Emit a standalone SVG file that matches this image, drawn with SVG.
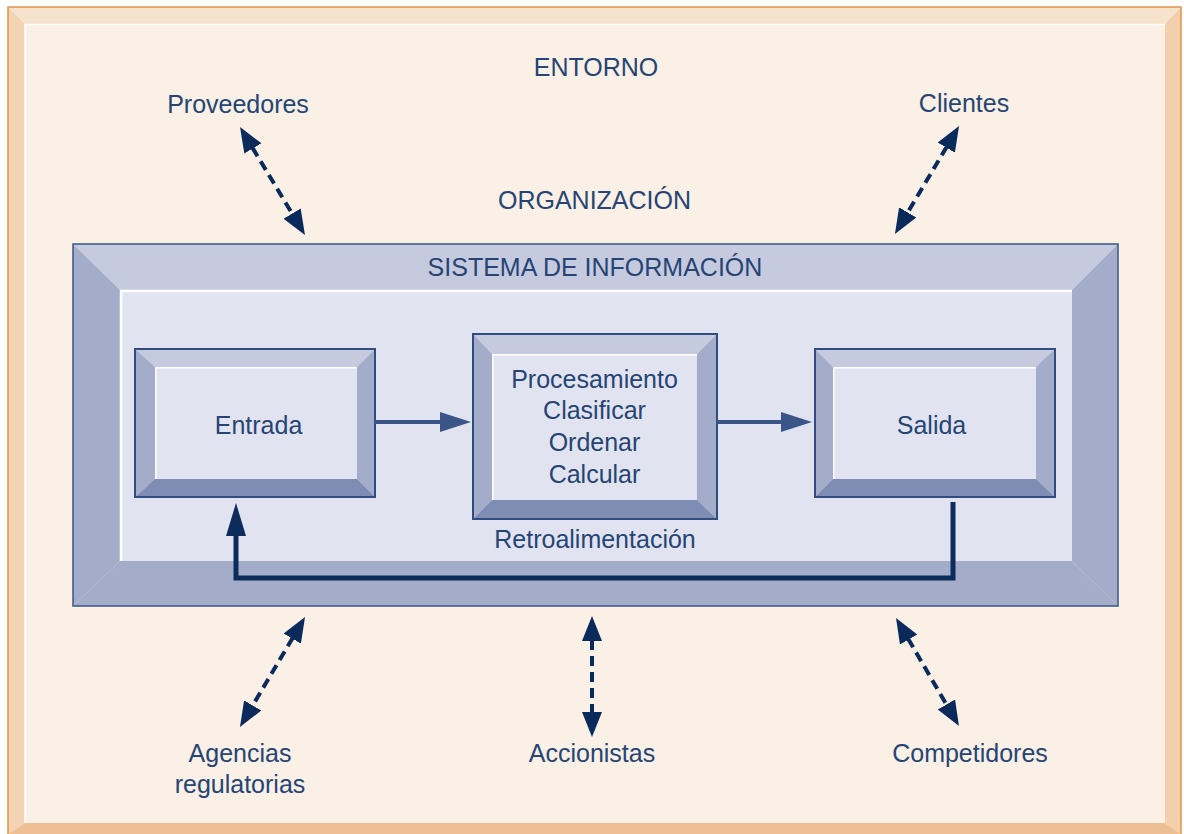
<svg xmlns="http://www.w3.org/2000/svg" width="1184" height="834" viewBox="0 0 1184 834">
<style>
text{font-family:"Liberation Sans",Arial,sans-serif;font-size:25px;fill:#264474;text-anchor:middle}
.bt{fill:#c5cadf}.bs{fill:#a3adca}.bb{fill:#7f8cb3}.in{fill:#e1e4f0}
.ol{fill:none;stroke:#2f4d80;stroke-width:2}
.dash{fill:none;stroke:#0a2a5c;stroke-width:4;stroke-dasharray:10 6}
</style>
<defs>
<marker id="dh" markerUnits="userSpaceOnUse" markerWidth="30" markerHeight="24" viewBox="0 0 30 20" refX="1" refY="10" orient="auto-start-reverse">
<path d="M0,0 L25,10 L0,20 Z" fill="#0a2a5c"/>
</marker>
</defs>
<rect width="1184" height="834" fill="#ffffff"/>
<g id="frame">
<polygon points="8,7 1181,7 1165,24 25,24" fill="#f6e3cd"/>
<polygon points="8,7 25,24 25,823 8,834" fill="#f4d3b3"/>
<polygon points="1181,7 1181,834 1165,823 1165,24" fill="#f3cfac"/>
<polygon points="25,823 1165,823 1181,834 8,834" fill="#edbf93"/>
<rect x="25" y="24" width="1140" height="799" fill="#faf0e5"/>
<path d="M25,823 V24.5 H1165" fill="none" stroke="#ffffff" stroke-width="1.5"/>
<path d="M8,834 V7 H1181 V834" fill="none" stroke="#e0944a" stroke-width="1.5"/>
</g>
<g id="sistema">
<polygon class="bt" points="73,244 1118,244 1072,290 120,290"/>
<polygon class="bs" points="73,244 120,290 120,561 73,606"/>
<polygon class="bs" points="1118,244 1118,606 1072,561 1072,290"/>
<polygon class="bs" points="120,561 1072,561 1118,606 73,606"/>
<rect x="120" y="290" width="952" height="271" class="in"/>
<path d="M121,561 V291 H1072" fill="none" stroke="#ffffff" stroke-width="2.5"/>
<rect x="73" y="244" width="1045" height="362" fill="none" stroke="#3a5585" stroke-width="1.5"/>
<text x="595" y="276">SISTEMA DE INFORMACIÓN</text>
</g>
<g id="entrada">
<polygon class="bt" points="135,349 375,349 357,367 155,367"/>
<polygon class="bs" points="135,349 155,367 155,479 135,497"/>
<polygon class="bs" points="375,349 375,497 357,479 357,367"/>
<polygon class="bb" points="155,479 357,479 375,497 135,497"/>
<rect x="155" y="367" width="202" height="112" class="in"/>
<path d="M155.8,479 V367.8 H357" fill="none" stroke="#ffffff" stroke-width="1.5"/>
<rect x="135" y="349" width="240" height="148" class="ol"/>
<text x="258.5" y="434">Entrada</text>
</g>
<g id="procesamiento">
<polygon class="bt" points="473,334 717,334 697,354 492,354"/>
<polygon class="bs" points="473,334 492,354 492,500 473,519"/>
<polygon class="bs" points="717,334 717,519 697,500 697,354"/>
<polygon class="bb" points="492,500 697,500 717,519 473,519"/>
<rect x="492" y="354" width="205" height="146" class="in"/>
<path d="M492.8,500 V354.8 H697" fill="none" stroke="#ffffff" stroke-width="1.5"/>
<rect x="473" y="334" width="244" height="185" class="ol"/>
<text x="594.5" y="388">Procesamiento</text>
<text x="594.5" y="419">Clasificar</text>
<text x="594.5" y="451">Ordenar</text>
<text x="594.5" y="483">Calcular</text>
</g>
<g id="salida">
<polygon class="bt" points="815,349 1055,349 1036,367 833,367"/>
<polygon class="bs" points="815,349 833,367 833,479 815,497"/>
<polygon class="bs" points="1055,349 1055,497 1036,479 1036,367"/>
<polygon class="bb" points="833,479 1036,479 1055,497 815,497"/>
<rect x="833" y="367" width="203" height="112" class="in"/>
<path d="M833.8,479 V367.8 H1036" fill="none" stroke="#ffffff" stroke-width="1.5"/>
<rect x="815" y="349" width="240" height="148" class="ol"/>
<text x="931.5" y="434">Salida</text>
</g>
<g id="labels">
<text x="596" y="76">ENTORNO</text>
<text x="594.5" y="209">ORGANIZACIÓN</text>
<text x="238" y="113">Proveedores</text>
<text x="964" y="112">Clientes</text>
<text x="240" y="762">Agencias</text>
<text x="240" y="793">regulatorias</text>
<text x="592" y="762">Accionistas</text>
<text x="970" y="762">Competidores</text>
<text x="595" y="548">Retroalimentación</text>
</g>
<g id="connectors">
<line x1="375" y1="422" x2="442" y2="422" stroke="#3a5689" stroke-width="4"/>
<polygon points="440,412 471,422 440,432" fill="#3a5689"/>
<line x1="717" y1="422" x2="783" y2="422" stroke="#3a5689" stroke-width="4"/>
<polygon points="781,412 812,422 781,432" fill="#3a5689"/>
<path d="M953,502 V578 H236 V532" fill="none" stroke="#0c2c5c" stroke-width="5"/>
<polygon points="236,503 226,536 246,536" fill="#0c2c5c"/>
<line class="dash" x1="252.4" y1="147.6" x2="292.6" y2="214.4" marker-start="url(#dh)" marker-end="url(#dh)"/>
<line class="dash" x1="946.8" y1="146.7" x2="907.2" y2="213.3" marker-start="url(#dh)" marker-end="url(#dh)"/>
<line class="dash" x1="292.8" y1="637.7" x2="252.2" y2="706.3" marker-start="url(#dh)" marker-end="url(#dh)"/>
<line class="dash" x1="592" y1="640" x2="592" y2="713" marker-start="url(#dh)" marker-end="url(#dh)"/>
<line class="dash" x1="908.1" y1="638.7" x2="946.9" y2="705.3" marker-start="url(#dh)" marker-end="url(#dh)"/>
</g>
</svg>
